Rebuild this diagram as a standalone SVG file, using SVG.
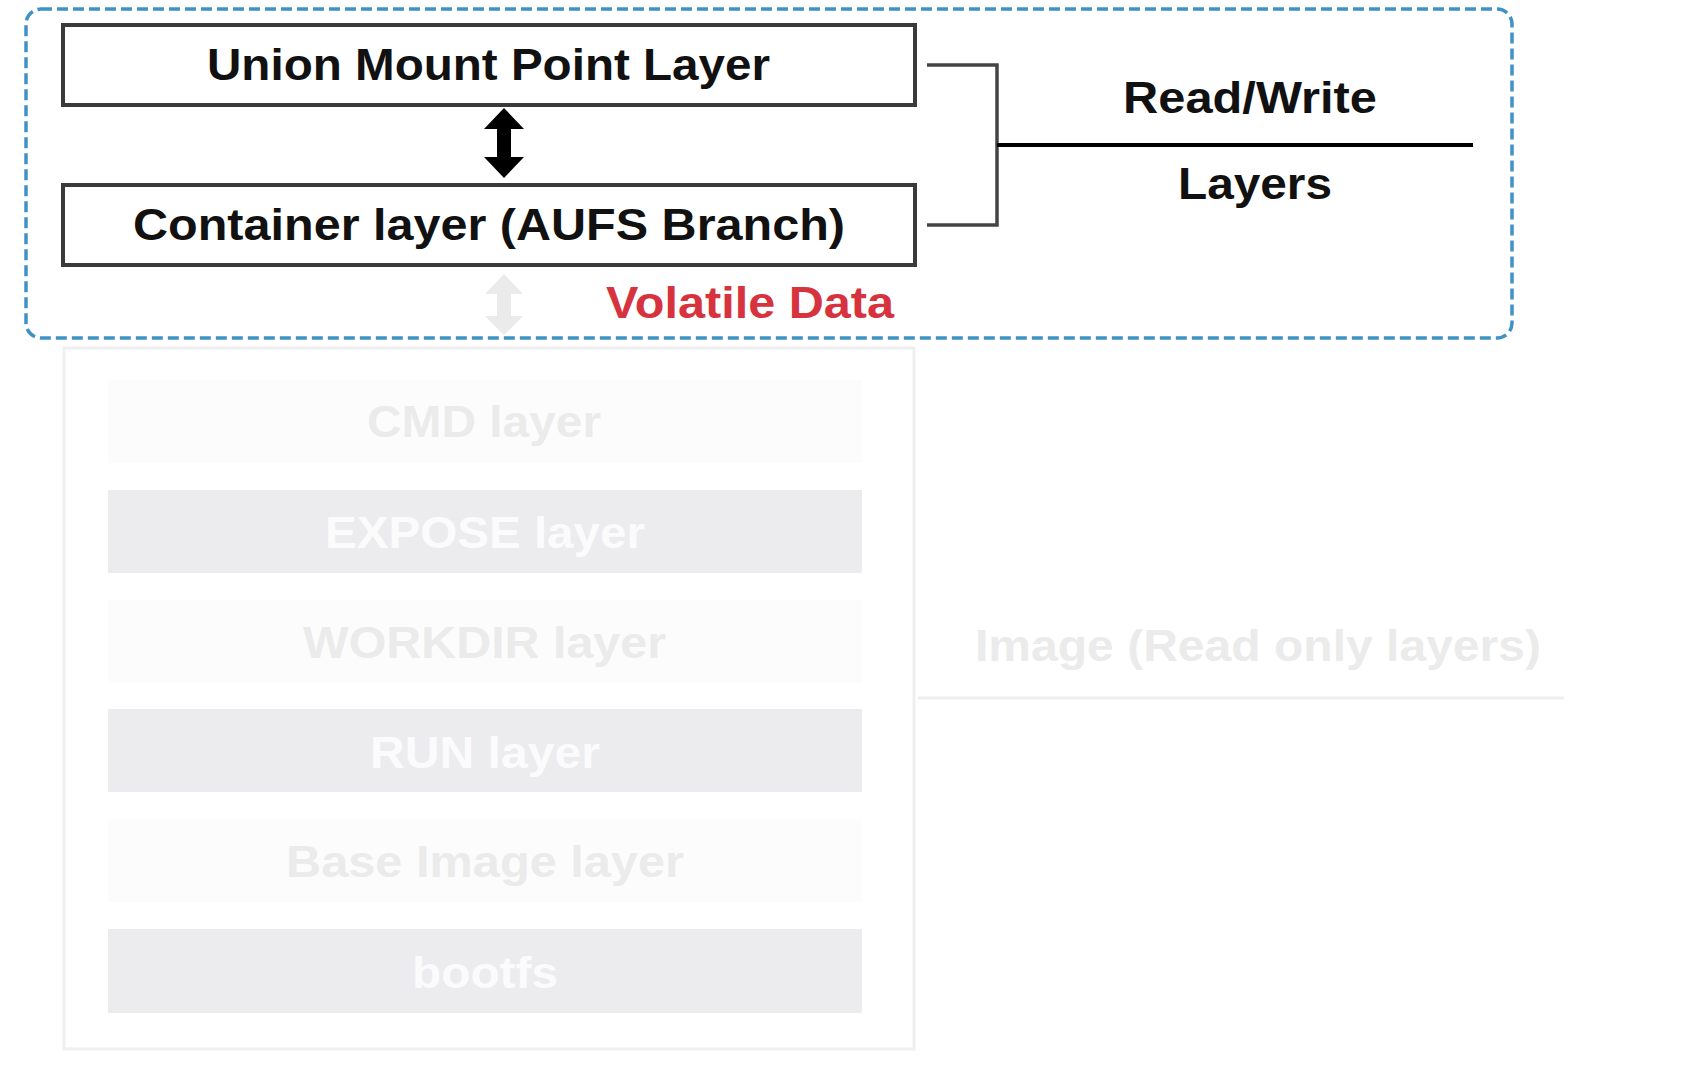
<svg xmlns="http://www.w3.org/2000/svg" width="1708" height="1066" viewBox="0 0 1708 1066">
<style>
.lbl{font-family:"Liberation Sans",Arial,sans-serif;font-weight:bold;font-size:45px;}
.dark{fill:#111;}
.box{fill:#fff;stroke:#3a3a3a;stroke-width:4;}
.bar-g{fill:#ececef;}
.bar-f{fill:#fcfcfd;}
.t-w{fill:#fbfbfc;}
.t-f{fill:#ebebeb;}
.bracket{fill:none;stroke:#444;stroke-width:3.5;}
</style>
<rect width="1708" height="1066" fill="#fff"/>
<g id="volatile-group">
<rect x="26" y="9" width="1486" height="329" rx="15" fill="none" stroke="#3f92c6" stroke-width="3.5" stroke-dasharray="11 5"/>
<text class="lbl" x="606" y="318" textLength="288" lengthAdjust="spacingAndGlyphs" fill="#d6333f">Volatile Data</text>
</g>
<g id="union-mount">
<rect class="box" x="63" y="25" width="852" height="80"/>
<text class="lbl dark" x="207" y="80" textLength="563" lengthAdjust="spacingAndGlyphs">Union Mount Point Layer</text>
</g>
<g id="container-layer">
<rect class="box" x="63" y="185" width="852" height="80"/>
<text class="lbl dark" x="133" y="240" textLength="712" lengthAdjust="spacingAndGlyphs">Container layer (AUFS Branch)</text>
</g>
<g id="rw-label">
<text class="lbl dark" x="1123" y="113" textLength="254" lengthAdjust="spacingAndGlyphs">Read/Write</text>
<text class="lbl dark" x="1178" y="199" textLength="154" lengthAdjust="spacingAndGlyphs">Layers</text>
</g>
<g id="image-stack">
<rect x="64" y="348" width="850" height="701" fill="none" stroke="#efefef" stroke-width="3"/>
<rect class="bar-f" x="108" y="380" width="754" height="83"/>
<text class="lbl t-f" x="367" y="437" textLength="234" lengthAdjust="spacingAndGlyphs">CMD layer</text>
<rect class="bar-g" x="108" y="490" width="754" height="83"/>
<text class="lbl t-w" x="325" y="548" textLength="320" lengthAdjust="spacingAndGlyphs">EXPOSE layer</text>
<rect class="bar-f" x="108" y="600" width="754" height="83"/>
<text class="lbl t-f" x="303" y="658" textLength="363" lengthAdjust="spacingAndGlyphs">WORKDIR layer</text>
<rect class="bar-g" x="108" y="709" width="754" height="83"/>
<text class="lbl t-w" x="370" y="768" textLength="230" lengthAdjust="spacingAndGlyphs">RUN layer</text>
<rect class="bar-f" x="108" y="819" width="754" height="83"/>
<text class="lbl t-f" x="286" y="877" textLength="398" lengthAdjust="spacingAndGlyphs">Base Image layer</text>
<rect class="bar-g" x="108" y="929" width="754" height="84"/>
<text class="lbl t-w" x="412" y="988" textLength="146" lengthAdjust="spacingAndGlyphs">bootfs</text>
</g>
<g id="image-label">
<text class="lbl t-f" x="975" y="661" textLength="566" lengthAdjust="spacingAndGlyphs">Image (Read only layers)</text>
</g>
<g id="connectors">
<path d="M504 108 L524 129 L511 129 L511 157 L524 157 L504 178 L484 157 L497 157 L497 129 L484 129 Z" fill="#000"/>
<path d="M504 274 L523 294 L511 294 L511 316 L523 316 L504 335 L485 316 L497 316 L497 294 L485 294 Z" fill="#ebebeb"/>
<path class="bracket" d="M927 65 L997 65 L997 225 L927 225"/>
<line x1="997" y1="145" x2="1473" y2="145" stroke="#000" stroke-width="4"/>
<line x1="918" y1="698" x2="1564" y2="698" stroke="#efefef" stroke-width="3"/>
</g>
</svg>
